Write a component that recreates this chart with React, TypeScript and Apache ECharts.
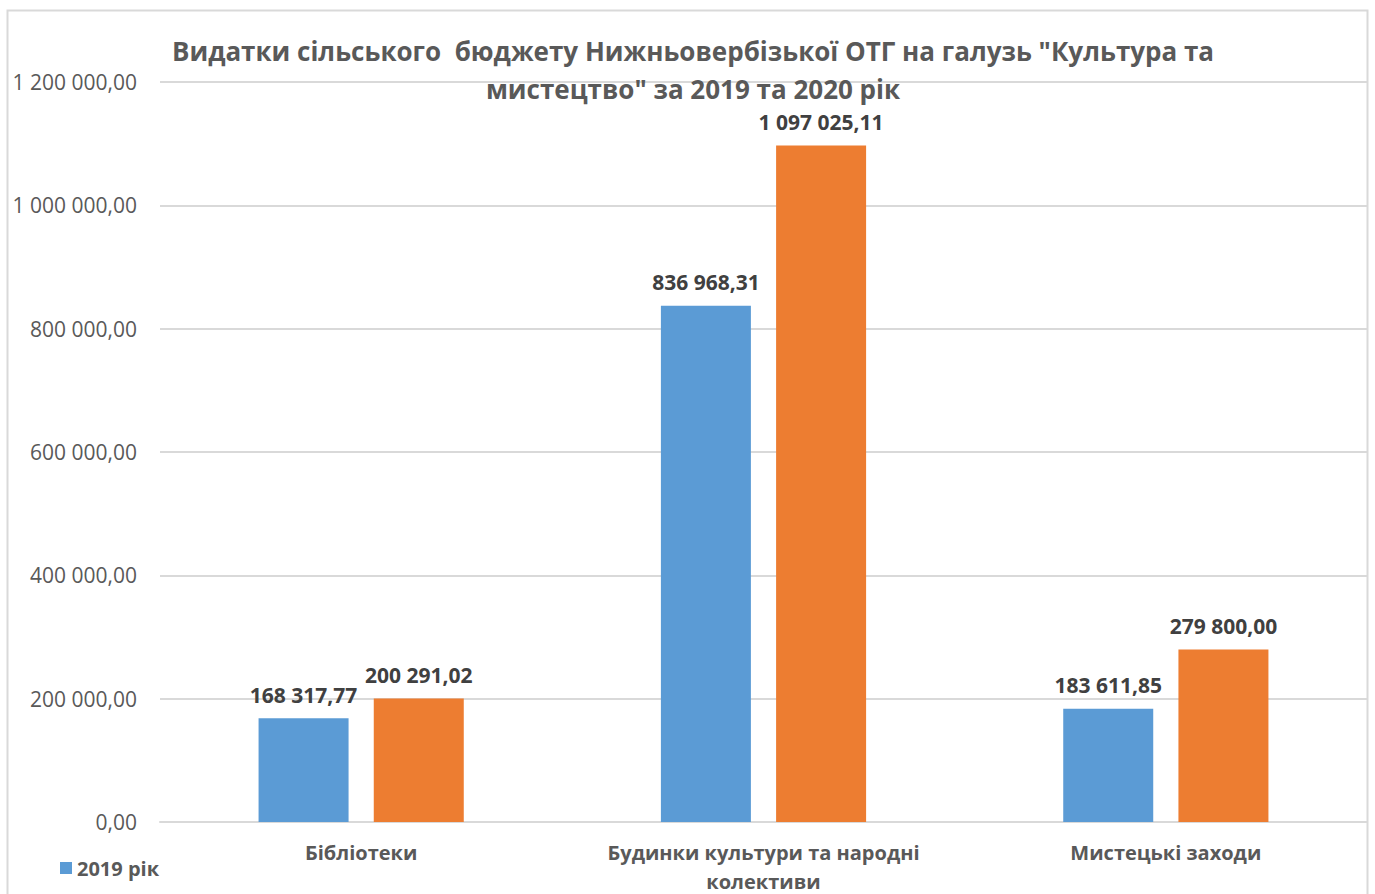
import React, { useEffect, useRef } from "react";
import * as echarts from "echarts";

const categories = ["Бібліотеки", "Будинки культури та народні\nколективи", "Мистецькі заходи"];
const series2019 = [168317.77, 836968.31, 183611.85];
const series2020 = [200291.02, 1097025.11, 279800.0];
const seriesNames = ["2019 рік", "2020 рік"];
const titleText = "Видатки сільського  бюджету Нижньовербізької ОТГ на галузь \"Культура та\nмистецтво\" за 2019 та 2020 рік";

function fmt(v: number): string {
  const [i, d] = v.toFixed(2).split(".");
  const withSp = i.replace(/\B(?=(\d{3})+(?!\d))/g, " ");
  return withSp + "," + d;
}

export default function App() {
  const ref = useRef<HTMLDivElement>(null);
  useEffect(() => {
    document.body.style.margin = "0";
    const chart = echarts.init(ref.current!, null, { renderer: "svg" });
    const font = "'Open Sans', 'Noto Sans', sans-serif";
    const labelCfg = {
      show: true,
      position: "top",
      distance: 13,
      fontSize: 21,
      fontWeight: "bold",
      color: "#404040",
      fontFamily: font,
      formatter: (p: any) => fmt(p.value),
    };
    chart.setOption({
      animation: false,
      textStyle: { fontFamily: font },
      title: {
        text: titleText,
        left: 688,
        textAlign: "center",
        top: 27,
        textStyle: { fontSize: 26, fontWeight: "bold", color: "#595959", lineHeight: 38, fontFamily: font },
      },
      graphic: [
        {
          type: "rect",
          shape: { x: 7.5, y: 10.5, width: 1360, height: 900 },
          style: { fill: "none", stroke: "#d9d9d9", lineWidth: 2 },
          silent: true,
          z: -1,
        },
      ],
      legend: {
        data: [seriesNames[0]],
        left: 55,
        top: 853,
        itemWidth: 12,
        itemHeight: 12,
        icon: "rect",
        textStyle: { fontSize: 20, fontWeight: "bold", color: "#595959", fontFamily: font },
      },
      grid: { left: 160, right: 8, top: 82, bottom: 72, containLabel: false, outerBoundsMode: "none" },
      xAxis: {
        type: "category",
        data: categories,
        axisLine: { lineStyle: { color: "#d9d9d9", width: 2 } },
        axisTick: { show: false },
        axisLabel: {
          interval: 0,
          hideOverlap: false,
          fontSize: 20,
          fontWeight: "bold",
          color: "#595959",
          margin: 16,
          lineHeight: 29,
          fontFamily: font,
        },
      },
      yAxis: {
        type: "value",
        min: 0,
        max: 1200000,
        interval: 200000,
        axisLine: { show: false },
        axisTick: { show: false },
        splitLine: { lineStyle: { color: "#d9d9d9", width: 2 } },
        axisLabel: {
          fontSize: 21,
          color: "#595959",
          margin: 23,
          fontFamily: font,
          formatter: (v: number) => fmt(v),
        },
      },
      series: [
        {
          name: seriesNames[0],
          type: "bar",
          data: series2019,
          barWidth: 90,
          barGap: "28%",
          itemStyle: { color: "#5B9BD5" },
          label: labelCfg,
        },
        {
          name: seriesNames[1],
          type: "bar",
          data: series2020,
          barWidth: 90,
          itemStyle: { color: "#ED7D31" },
          label: labelCfg,
        },
      ],
    });
    return () => chart.dispose();
  }, []);
  return <div ref={ref} style={{ position: "absolute", left: 0, top: 0, width: 1375, height: 894 }} />;
}
